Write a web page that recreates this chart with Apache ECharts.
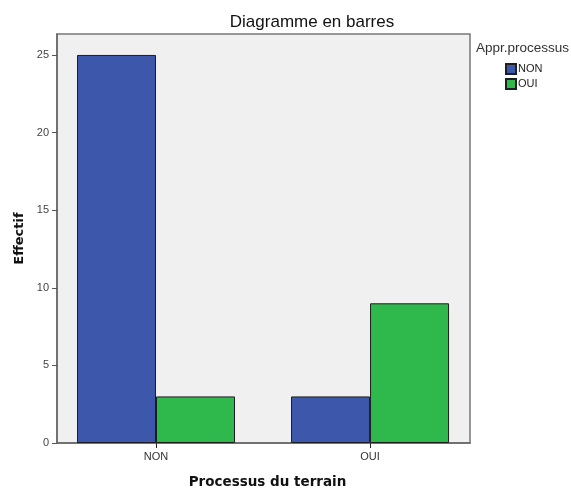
<!DOCTYPE html>
<html>
<head>
<meta charset="utf-8">
<style>
  html, body { margin: 0; padding: 0; background: #ffffff; }
  #chart { width: 571px; height: 489px; }
</style>
<script src="https://cdn.jsdelivr.net/npm/echarts@6/dist/echarts.min.js"></script>
</head>
<body>
<div id="chart"></div>
<script>
// Categories of "Processus du terrain" and the two groups of "Appr.processus"
const categories = ['NON', 'OUI'];
const seriesNames = ['NON', 'OUI'];
const valuesNON = [25, 3];
const valuesOUI = [3, 9];
const yTicks = [0, 5, 10, 15, 20, 25];

const categoryPos = categories.map((c, i) => i);
const toPoints = vals => vals.map((v, i) => [categoryPos[i], v]);

const chart = echarts.init(document.getElementById('chart'), null, { renderer: 'canvas' });

const labelFont = 'Liberation Sans, Arial, sans-serif';
const boldFont = 'DejaVu Sans, Verdana, sans-serif';

chart.setOption({
  animation: false,
  backgroundColor: '#ffffff',
  title: [
    {
      text: 'Diagramme en barres',
      left: 312, top: 14, textAlign: 'center', padding: 0,
      textStyle: { fontFamily: labelFont, fontSize: 17, fontWeight: 'normal', color: '#111' }
    },
    {
      text: 'Appr.processus',
      left: 476, top: 41, padding: 0,
      textStyle: { fontFamily: labelFont, fontSize: 13.5, fontWeight: 'normal', color: '#333' }
    }
  ],
  legend: {
    orient: 'vertical',
    left: 505, top: 63, padding: 0,
    itemWidth: 10, itemHeight: 10, itemGap: 3,
    icon: 'rect',
    data: seriesNames,
    textStyle: { fontFamily: labelFont, fontSize: 11, color: '#222', padding: [0, 0, 0, -3] }
  },
  grid: {
    left: 57, right: 101, top: 34, bottom: 46,
    outerBoundsMode: 'none',
    containLabel: false,
    show: true,
    backgroundColor: '#f0f0f0',
    borderColor: '#777',
    borderWidth: 1.5
  },
  xAxis: {
    type: 'value',
    min: -0.4626, max: 1.467,
    name: 'Processus du terrain',
    nameLocation: 'middle',
    nameGap: 32,
    nameTextStyle: { fontFamily: boldFont, fontSize: 13.5, fontWeight: 'bold', color: '#111', padding: [0, 0, 0, 8] },
    axisLine: { show: true, onZero: false, lineStyle: { color: '#666', width: 1.5 } },
    axisTick: { show: true, length: 5, customValues: categoryPos, lineStyle: { color: '#222' } },
    axisLabel: {
      customValues: categoryPos,
      formatter: v => categories[Math.round(v)],
      fontFamily: labelFont, fontSize: 11, color: '#333', margin: 8
    },
    splitLine: { show: false }
  },
  yAxis: {
    type: 'value',
    min: 0, max: 26.35,
    name: 'Effectif',
    nameLocation: 'middle',
    nameGap: 28,
    nameTextStyle: { fontFamily: boldFont, fontSize: 13, fontWeight: 'bold', color: '#111' },
    axisLine: { show: true, onZero: false, lineStyle: { color: '#666', width: 1.5 } },
    axisTick: { show: true, length: 5, customValues: yTicks, lineStyle: { color: '#555' } },
    axisLabel: {
      customValues: yTicks,
      fontFamily: labelFont, fontSize: 11, color: '#444', margin: 8
    },
    splitLine: { show: false }
  },
  series: [
    {
      name: seriesNames[0],
      type: 'bar',
      data: toPoints(valuesNON),
      barWidth: 79,
      barGap: '0%',
      itemStyle: { color: '#3d57aa', borderColor: '#1e1e1e', borderWidth: 1 }
    },
    {
      name: seriesNames[1],
      type: 'bar',
      data: toPoints(valuesOUI),
      barWidth: 79,
      barGap: '0%',
      itemStyle: { color: '#2fb84b', borderColor: '#1e1e1e', borderWidth: 1 }
    }
  ]
});
</script>
</body>
</html>
